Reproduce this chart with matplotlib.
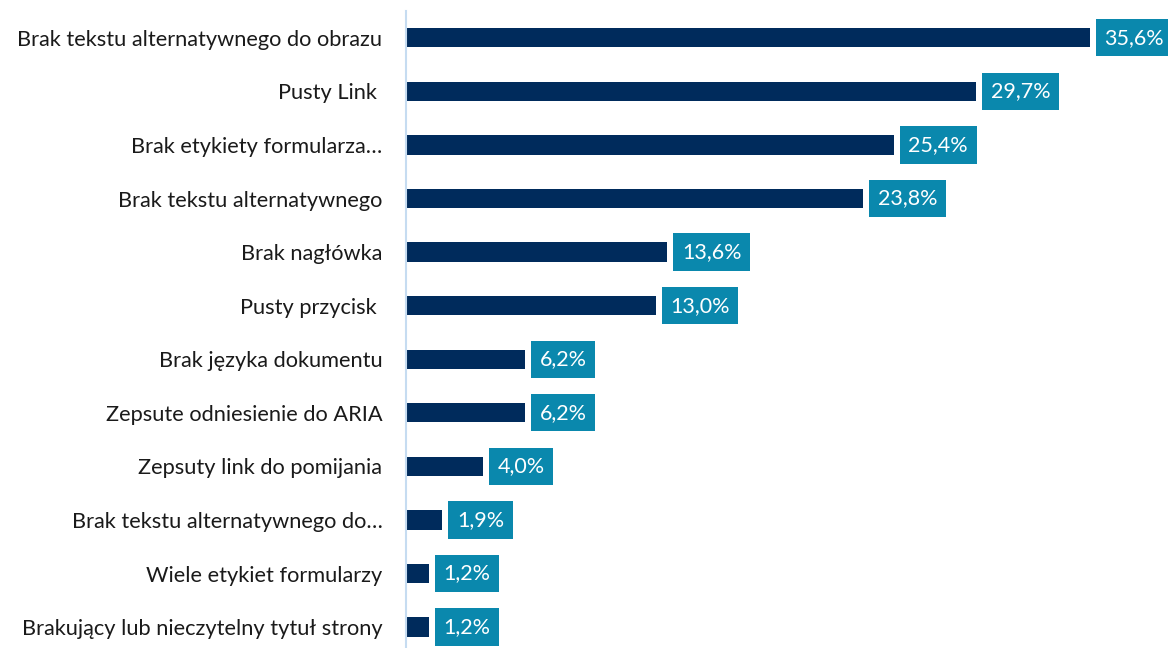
import matplotlib

matplotlib.use("Agg")
import matplotlib.pyplot as plt

# Accessibility errors found, share of audited pages (%)
CATEGORIES = [
    "Brak tekstu alternatywnego do obrazu",
    "Pusty Link ",
    "Brak etykiety formularza\u2026",
    "Brak tekstu alternatywnego",
    "Brak nagłówka",
    "Pusty przycisk ",
    "Brak języka dokumentu",
    "Zepsute odniesienie do ARIA",
    "Zepsuty link do pomijania",
    "Brak tekstu alternatywnego do\u2026",
    "Wiele etykiet formularzy",
    "Brakujący lub nieczytelny tytuł strony",
]
VALUES = [35.6, 29.7, 25.4, 23.8, 13.6, 13.0, 6.2, 6.2, 4.0, 1.9, 1.2, 1.2]

BAR_COLOR = "#002b5c"
BOX_COLOR = "#0a88ad"
AXIS_COLOR = "#c6dcf1"
FONT = "Lato"

fig = plt.figure(figsize=(11.68, 6.48), dpi=100)
ax = fig.add_axes([406 / 1168, 0.0, 1 - 406 / 1168, 1 - 11 / 648])

pos = list(range(len(VALUES)))
ax.barh(pos, VALUES, height=0.36, color=BAR_COLOR)

for y, v in zip(pos, VALUES):
    ax.annotate(f"{v:.1f}".replace(".", ",") + "%", xy=(v, y), xytext=(10.5, 0),
                textcoords="offset points", ha="left", va="center",
                fontsize=15.5, family=FONT, color="white",
                bbox=dict(boxstyle="square,pad=0.4", fc=BOX_COLOR, ec="none"),
                annotation_clip=False)

ax.set_xlim(0, 39.67)
ax.set_ylim(11.39, -0.5)
ax.set_yticks(pos)
ax.set_yticklabels(CATEGORIES, fontsize=15.7, family=FONT, color="#1a1a1a")
ax.tick_params(axis="y", length=0, pad=17)
ax.set_xticks([])
for side in ("top", "right", "bottom"):
    ax.spines[side].set_visible(False)
ax.spines["left"].set_color(AXIS_COLOR)
ax.spines["left"].set_linewidth(1.5)

fig.savefig("out.png", dpi=100)
